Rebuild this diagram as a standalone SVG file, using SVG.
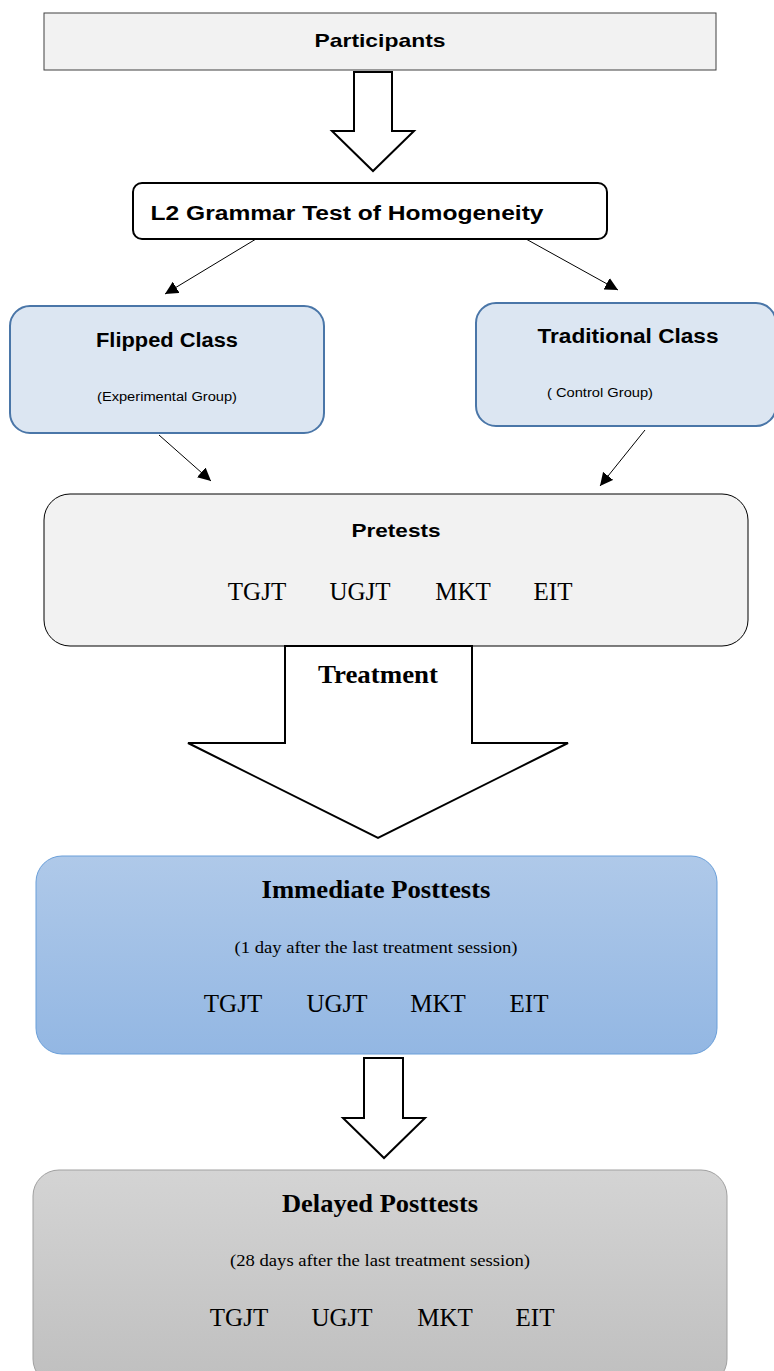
<svg xmlns="http://www.w3.org/2000/svg" width="774" height="1371" viewBox="0 0 774 1371">
<style>
.sans{font-family:"Liberation Sans","Open Sans",sans-serif;font-weight:bold;fill:#000;text-anchor:middle}
.sansn{font-family:"Liberation Sans","Open Sans",sans-serif;fill:#000;text-anchor:middle}
.serif{font-family:"Liberation Serif","Times New Roman",serif;fill:#000;text-anchor:middle}
.serifb{font-family:"Liberation Serif","Times New Roman",serif;font-weight:bold;fill:#000;text-anchor:middle}
.blk{fill:#fff;stroke:#000;stroke-width:2}
.conn{stroke:#000;stroke-width:1;fill:none;marker-end:url(#ah)}
.blue{fill:#dce6f2;stroke:#4a76a8;stroke-width:2}
</style>
<defs>
<marker id="ah" markerWidth="13" markerHeight="13" refX="12" refY="6" orient="auto" markerUnits="userSpaceOnUse" viewBox="0 0 12 12">
<path d="M0,0 L12,6 L0,12 z" fill="#000"/>
</marker>
<linearGradient id="gBlue" x1="0" y1="0" x2="0" y2="1">
<stop offset="0" stop-color="#afc9e9"/>
<stop offset="1" stop-color="#93b7e3"/>
</linearGradient>
<linearGradient id="gGray" x1="0" y1="0" x2="0" y2="1">
<stop offset="0" stop-color="#d4d4d4"/>
<stop offset="1" stop-color="#bfbfbf"/>
</linearGradient>
</defs>

<g id="participants">
<rect x="44" y="13" width="672" height="57" fill="#f2f2f2" stroke="#404040" stroke-width="1"/>
<text class="sans" x="380" y="47" font-size="19" textLength="131" lengthAdjust="spacingAndGlyphs">Participants</text>
</g>

<g id="homogeneity">
<rect x="133" y="183" width="474" height="56" rx="9" fill="#fff" stroke="#000" stroke-width="2"/>
<text class="sans" x="347" y="220" font-size="20" textLength="393" lengthAdjust="spacingAndGlyphs">L2 Grammar Test of Homogeneity</text>
</g>

<g id="flipped">
<rect class="blue" x="10" y="306" width="314" height="127" rx="20"/>
<text class="sans" x="167" y="347" font-size="20" textLength="142" lengthAdjust="spacingAndGlyphs">Flipped Class</text>
<text class="sansn" x="167" y="401" font-size="12" textLength="140" lengthAdjust="spacingAndGlyphs">(Experimental Group)</text>
</g>

<g id="traditional">
<rect class="blue" x="476" y="303" width="300" height="123" rx="20"/>
<text class="sans" x="628" y="343" font-size="20" textLength="181" lengthAdjust="spacingAndGlyphs">Traditional Class</text>
<text class="sansn" x="600" y="397" font-size="12" textLength="106" lengthAdjust="spacingAndGlyphs">( Control Group)</text>
</g>

<g id="pretests">
<rect x="44" y="494" width="704" height="152" rx="26" fill="#f2f2f2" stroke="#000" stroke-width="1"/>
<text class="sans" x="396" y="537" font-size="19" textLength="89" lengthAdjust="spacingAndGlyphs">Pretests</text>
<text class="serif" x="257" y="600" font-size="25">TGJT</text>
<text class="serif" x="360" y="600" font-size="25">UGJT</text>
<text class="serif" x="463" y="600" font-size="25">MKT</text>
<text class="serif" x="553" y="600" font-size="25">EIT</text>
</g>

<g id="treatment">
<polygon class="blk" points="285,646 472,646 472,743 568,743 378,838 188,743 285,743"/>
<text class="serifb" x="378" y="683" font-size="25" textLength="120" lengthAdjust="spacingAndGlyphs">Treatment</text>
</g>

<g id="immediate">
<rect x="36" y="856" width="681" height="198" rx="26" fill="url(#gBlue)" stroke="#6a9fd9" stroke-width="1"/>
<text class="serifb" x="376" y="898" font-size="25" textLength="229" lengthAdjust="spacingAndGlyphs">Immediate Posttests</text>
<text class="serif" x="376" y="953" font-size="16" textLength="283" lengthAdjust="spacingAndGlyphs">(1 day after the last treatment session)</text>
<text class="serif" x="233" y="1012" font-size="25">TGJT</text>
<text class="serif" x="337" y="1012" font-size="25">UGJT</text>
<text class="serif" x="438" y="1012" font-size="25">MKT</text>
<text class="serif" x="529" y="1012" font-size="25">EIT</text>
</g>

<g id="delayed">
<rect x="33" y="1170" width="694" height="215" rx="26" fill="url(#gGray)" stroke="#a0a0a0" stroke-width="1"/>
<text class="serifb" x="380" y="1212" font-size="25" textLength="196" lengthAdjust="spacingAndGlyphs">Delayed Posttests</text>
<text class="serif" x="380" y="1266" font-size="16" textLength="300" lengthAdjust="spacingAndGlyphs">(28 days after the last treatment session)</text>
<text class="serif" x="239" y="1326" font-size="25">TGJT</text>
<text class="serif" x="342" y="1326" font-size="25">UGJT</text>
<text class="serif" x="445" y="1326" font-size="25">MKT</text>
<text class="serif" x="535" y="1326" font-size="25">EIT</text>
</g>

<g id="connectors">
<polygon class="blk" points="354,72 392,72 392,131 414,131 373,171 332,131 354,131"/>
<line class="conn" x1="256" y1="239" x2="165" y2="294"/>
<line class="conn" x1="526" y1="239" x2="618" y2="290"/>
<line class="conn" x1="159" y1="435" x2="211" y2="481"/>
<line class="conn" x1="645" y1="430" x2="600" y2="486"/>
<polygon class="blk" points="364,1058 403,1058 403,1118 425,1118 384,1158 343,1118 364,1118"/>
</g>
</svg>
